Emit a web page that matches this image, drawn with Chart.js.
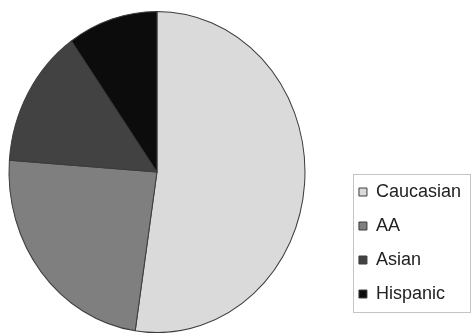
<!DOCTYPE html>
<html>
<head>
<meta charset="utf-8">
<script src="https://cdn.jsdelivr.net/npm/chart.js@4/dist/chart.umd.min.js"></script>
<style>
  html, body { margin: 0; padding: 0; background: #ffffff; }
  #wrap { width: 475px; height: 333px; }
</style>
</head>
<body>
<div id="wrap"><canvas id="chart" width="475" height="333"></canvas></div>
<script>
// Share of patients by ethnic group (percent)
const categories = ['Caucasian', 'AA', 'Asian', 'Hispanic'];
const shares = [52.3, 23.8, 14.0, 9.8];
const sliceColors = ['#dadada', '#7f7f7f', '#424242', '#0c0c0c'];

// Leaves a gap between the pie and the legend, and draws the pie a little taller than wide.
const pieLayout = {
  id: 'pieLayout',
  afterLayout(chart) {
    const a = chart.chartArea;
    a.right -= 29;
    a.width = a.right - a.left;
  },
  beforeDatasetsDraw(chart) {
    const arc = chart.getDatasetMeta(0).data[0];
    const ctx = chart.ctx;
    ctx.save();
    ctx.translate(arc.x, arc.y);
    ctx.scale(1, 1.085);
    ctx.translate(-arc.x, -arc.y);
  },
  afterDatasetsDraw(chart) {
    chart.ctx.restore();
  }
};

// Thin frame around the legend entries.
const legendFrame = {
  id: 'legendFrame',
  afterDraw(chart) {
    const boxes = chart.legend && chart.legend.legendHitBoxes;
    if (!boxes || !boxes.length) return;
    const left = Math.min(...boxes.map(b => b.left)) - 6;
    const right = Math.max(...boxes.map(b => b.left + b.width)) + 9;
    const top = boxes[0].top - 9;
    const last = boxes[boxes.length - 1];
    const bottom = last.top + last.height + 9;
    const ctx = chart.ctx;
    ctx.save();
    ctx.strokeStyle = '#c4c4c4';
    ctx.lineWidth = 1;
    ctx.strokeRect(Math.round(left) + 0.5, Math.round(top) + 0.5,
                   Math.round(right - left), Math.round(bottom - top));
    ctx.restore();
  }
};

new Chart(document.getElementById('chart'), {
  type: 'pie',
  data: {
    labels: categories,
    datasets: [{
      data: shares,
      backgroundColor: sliceColors,
      borderColor: '#3c3c3c',
      borderWidth: 1,
      radius: 148
    }]
  },
  options: {
    responsive: false,
    animation: false,
    events: [],
    layout: { padding: { top: 25, bottom: 14, left: 0, right: 4 } },
    plugins: {
      tooltip: { enabled: false },
      legend: {
        position: 'right',
        align: 'end',
        labels: {
          boxWidth: 8,
          boxHeight: 8,
          padding: 16,
          color: '#222222',
          font: { family: '"Liberation Sans", Arial, sans-serif', size: 18 }
        }
      }
    }
  },
  plugins: [pieLayout, legendFrame]
});
</script>
</body>
</html>
